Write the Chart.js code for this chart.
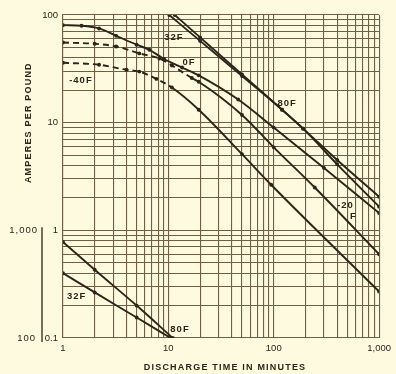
<!DOCTYPE html>
<html>
<head>
<meta charset="utf-8">
<script src="https://cdn.jsdelivr.net/npm/chart.js@4.4.0/dist/chart.umd.min.js"></script>
<style>
  html, body { margin: 0; padding: 0; background: #fdfae0; }
  canvas { display: block; }
</style>
</head>
<body>
<canvas id="chart" width="396" height="374"></canvas>
<script>
// discharge time (minutes) and amperes per pound
var t32 = [10.2, 20, 50, 120, 190, 400, 1000];
var a32 = [100, 57.5, 27.1, 13.2, 8.8, 4.5, 2.05];

var t80 = [11.5, 20, 50, 120, 190, 400, 1000];
var a80 = [100, 62, 28.1, 13.2, 8.8, 4.1, 1.66];

var t0 = [1, 1.5, 2.2, 3.2, 5, 6.6, 9.1, 13.5, 19.4, 46, 100, 300, 1000];
var a0 = [80.5, 79.5, 75, 64, 53, 47.5, 39, 32.5, 27.5, 16.4, 9, 3.8, 1.45];

var tm20 = [1, 2, 3.2, 5.3, 8.2, 10.8, 16.7, 19.4, 50, 100, 245, 1000];
var am20 = [55.5, 54, 51, 44, 39.5, 34, 26, 24, 11.8, 5.9, 2.5, 0.6];

var tm40 = [1, 2.2, 4, 5.3, 7.7, 10.8, 19.4, 50, 94.5, 1000];
var am40 = [36, 34.5, 31, 29.8, 25.5, 21.2, 13.2, 5.1, 2.65, 0.27];

// lower pair (watt-hour scale 100 - 1,000 on the left)
var tLow80 = [1, 2, 5, 11];
var aLow80 = [0.78, 0.43, 0.2, 0.1];
var tLow32 = [1, 2, 5, 10.5];
var aLow32 = [0.4, 0.265, 0.155, 0.1];

var xLabels = { 1: '1', 10: '10', 100: '100', 1000: '1,000' };
var yLabels = { 0.1: '0.1', 1: '1', 10: '10', 100: '100' };
var y2Labels = ['1,000', '100'];

var curveLabels = [
    { text: '32F', x: 11.3, y: 61.8 },
    { text: '0F', x: 15.7, y: 36.5 },
    { text: '80F', x: 134, y: 15.0 },
    { text: '-40F', x: 1.48, y: 24.6 },
    { text: '-20', x: 480, y: 1.69 },
    { text: 'F', x: 570, y: 1.34 },
    { text: '32F', x: 1.35, y: 0.246 },
    { text: '80F', x: 12.9, y: 0.121 }
];

var ink = '#2d2518';
var gridColor = '#6f5f45';
var fontFam = "'Liberation Sans', Arial, sans-serif";

function logGrid(lo, hi) {
    var out = [];
    for (var d = lo; d < hi; d *= 10) {
        for (var k = 1; k < 10; k++) out.push(+(d * k).toPrecision(3));
    }
    out.push(hi);
    return out;
}

function pts(xs, ys) {
    return xs.map(function (v, i) { return { x: v, y: ys[i] }; });
}

function curve(xs, ys, dashUntil) {
    return {
        data: pts(xs, ys),
        borderColor: ink,
        backgroundColor: ink,
        borderWidth: 1.9,
        pointRadius: 1,
        pointHoverRadius: 0,
        cubicInterpolationMode: 'monotone',
        segment: {
            borderDash: function (c) {
                return dashUntil && c.p1.parsed.x <= dashUntil ? [6, 4] : undefined;
            }
        }
    };
}

var paperText = {
    id: 'paperText',
    afterDraw: function (chart) {
        var ctx = chart.ctx;
        var x = chart.scales.x, y = chart.scales.y;
        ctx.save();
        ctx.fillStyle = ink;
        ctx.textAlign = 'center';
        ctx.textBaseline = 'middle';
        if ('letterSpacing' in ctx) ctx.letterSpacing = '1.2px';

        // axis titles
        ctx.font = 'bold 9px ' + fontFam;
        ctx.fillText('DISCHARGE TIME IN MINUTES', (x.left + x.right) / 2 + 4, 368);
        ctx.save();
        ctx.translate(29, y.getPixelForValue(10));
        ctx.rotate(-Math.PI / 2);
        ctx.fillText('AMPERES PER POUND', 0, 0);
        ctx.restore();

        // curve labels
        if ('letterSpacing' in ctx) ctx.letterSpacing = '1px';
        ctx.font = 'bold 9.5px ' + fontFam;
        curveLabels.forEach(function (l) {
            ctx.fillText(l.text, x.getPixelForValue(l.x), y.getPixelForValue(l.y));
        });

        // secondary scale on the left (1,000 / 100)
        var top = y.getPixelForValue(1), bot = y.getPixelForValue(0.1);
        ctx.strokeStyle = ink;
        ctx.lineWidth = 1.3;
        ctx.beginPath();
        ctx.moveTo(42, top - 3);
        ctx.lineTo(42, bot + 4);
        ctx.stroke();
        ctx.font = '9.5px ' + fontFam;
        ctx.textAlign = 'right';
        ctx.fillText(y2Labels[0], 38, top);
        ctx.fillText(y2Labels[1], 36, bot);
        ctx.restore();
    }
};

var chart = new Chart(document.getElementById('chart'), {
    type: 'line',
    data: {
        datasets: [
            curve(t32, a32),
            curve(t80, a80),
            curve(t0, a0),
            curve(tm20, am20, 16.7),
            curve(tm40, am40, 10.8),
            curve(tLow80, aLow80),
            curve(tLow32, aLow32)
        ]
    },
    options: {
        responsive: false,
        animation: false,
        events: [],
        layout: { padding: { top: 15, right: 14, left: 0, bottom: 0 } },
        plugins: { legend: { display: false }, tooltip: { enabled: false } },
        scales: {
            x: {
                type: 'logarithmic',
                min: 1,
                max: 1000,
                afterBuildTicks: function (s) {
                    s.ticks = logGrid(1, 1000).map(function (v) { return { value: v }; });
                },
                afterFit: function (s) { s.height = 36; },
                grid: { color: gridColor, lineWidth: 1.1, drawTicks: false },
                border: { color: gridColor, width: 1.1 },
                ticks: {
                    autoSkip: false,
                    maxRotation: 0,
                    padding: 5,
                    color: ink,
                    font: { family: fontFam, size: 9.5 },
                    callback: function (v) { return xLabels[v] || ''; }
                }
            },
            y: {
                type: 'logarithmic',
                min: 0.1,
                max: 100,
                afterBuildTicks: function (s) {
                    s.ticks = logGrid(0.1, 100).map(function (v) { return { value: v }; });
                },
                afterFit: function (s) { s.width = 63; },
                grid: { color: gridColor, lineWidth: 1.1, drawTicks: false },
                border: { color: gridColor, width: 1.1 },
                ticks: {
                    autoSkip: false,
                    padding: 5,
                    color: ink,
                    font: { family: fontFam, size: 9.5 },
                    callback: function (v) { return yLabels[v] || ''; }
                }
            }
        }
    },
    plugins: [paperText]
});
</script>
</body>
</html>
